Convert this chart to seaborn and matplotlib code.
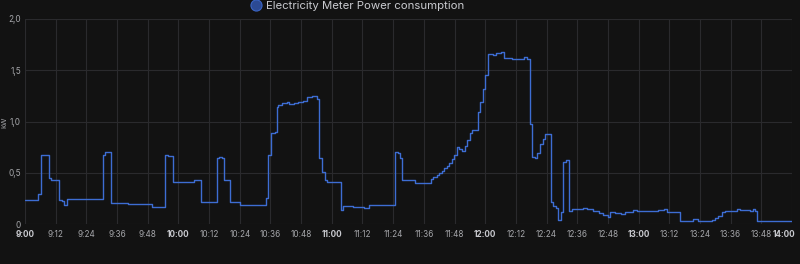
import matplotlib
matplotlib.use("Agg")
import matplotlib.pyplot as plt
import matplotlib.transforms as mtransforms
from matplotlib.lines import Line2D
import seaborn as sns
import pandas as pd

# minutes after 9:00 and power (kW), step-after series
minutes = [0, 5.2, 6.26, 7.8, 9.39, 10.17, 13.41, 14.35, 15.37, 16.43, 23.5,
           30.6, 31.4, 32.46, 33.5, 40.3, 46.5, 49.5, 54.75, 56.0, 57.76,
           66.1, 68.8, 75.0, 75.9, 76.9, 77.9, 80.2, 84.1, 94.1, 95.2, 96.2,
           97.8, 98.4, 99.1, 100.4, 102.3, 103.4, 105.3, 106.9, 108.8, 110.2,
           112.4, 114.2, 115.1, 116.3, 117.3, 118.2, 123.5, 124.5, 128.4,
           131.7, 132.7, 134.5, 144.7, 145.8, 146.7, 147.6, 152.5, 158.8,
           159.7, 161.0, 162.0, 163.0, 164.0, 164.9, 165.9, 166.9, 167.9,
           168.8, 169.7, 171.0, 172.1, 173.0, 174.0, 174.9, 177.0, 177.9,
           179.0, 179.9, 181.2, 183.1, 184.3, 186.2, 187.2, 190.3, 195.2,
           196.2, 197.5, 198.4, 199.5, 200.4, 201.4, 202.5, 203.4, 205.6,
           206.6, 207.7, 208.6, 209.6, 210.5, 211.6, 212.6, 213.8, 218.3,
           219.7, 222.0, 224.6, 226.2, 227.9, 228.8, 230.7, 233.1, 234.6,
           237.9, 239.2, 243.1, 247.7, 249.9, 251.2, 256.2, 261.1, 263.3,
           268.6, 269.8, 271.1, 272.7, 273.8, 278.3, 279.6, 283.5, 284.6,
           285.5, 286.4, 300]
power_kw = [0.23, 0.29, 0.676, 0.67, 0.45, 0.43, 0.237, 0.224, 0.19, 0.24, 0.245,
            0.67, 0.705, 0.70, 0.205, 0.2, 0.195, 0.17, 0.673, 0.668, 0.41,
            0.43, 0.21, 0.647, 0.657, 0.647, 0.43, 0.215, 0.19, 0.25, 0.67, 0.885,
            0.895, 1.14, 1.16, 1.177, 1.193, 1.168, 1.18, 1.186, 1.2, 1.235,
            1.25, 1.22, 0.64, 0.51, 0.43, 0.41, 0.137, 0.175, 0.166,
            0.17, 0.16, 0.187, 0.705, 0.69, 0.64, 0.426, 0.397, 0.436,
            0.46, 0.48, 0.5, 0.52, 0.543, 0.563, 0.598, 0.63, 0.673,
            0.754, 0.73, 0.715, 0.76, 0.82, 0.885, 0.917, 1.096, 1.187,
            1.314, 1.454, 1.655, 1.649, 1.665, 1.675, 1.617, 1.61, 1.632,
            1.613, 0.976, 0.657, 0.644, 0.69, 0.78, 0.826, 0.88, 0.218,
            0.176, 0.153, 0.04, 0.114, 0.608, 0.62, 0.13, 0.146, 0.153,
            0.143, 0.13, 0.104, 0.088, 0.065, 0.12, 0.11, 0.098, 0.114,
            0.137, 0.127, 0.124, 0.137, 0.15, 0.117, 0.03, 0.049, 0.032,
            0.039, 0.062, 0.078, 0.12, 0.13, 0.143, 0.137, 0.127, 0.15,
            0.13, 0.032, 0.032]

x_tick_minutes = list(range(0, 301, 12))
x_tick_labels = ["9:00", "9:12", "9:24", "9:36", "9:48", "10:00", "10:12", "10:24",
                 "10:36", "10:48", "11:00", "11:12", "11:24", "11:36", "11:48",
                 "12:00", "12:12", "12:24", "12:36", "12:48", "13:00", "13:12",
                 "13:24", "13:36", "13:48", "14:00"]
y_ticks = [0, 0.5, 1.0, 1.5, 2.0]
y_tick_labels = ["0", "0,5", "1,0", "1,5", "2,0"]
series_name = "Electricity Meter Power consumption"

bg = "#121212"
grid_c = "#2a2a2d"
text_c = "#a5a6aa"
bold_c = "#c9cacf"
line_c = "#3d6dd3"

sns.set_theme(style="dark")
plt.rcParams["font.family"] = ["Inter", "DejaVu Sans"]

df = pd.DataFrame({"minute": minutes, "kW": power_kw})

fig = plt.figure(figsize=(8, 2.64), dpi=100, facecolor=bg)
ax = fig.add_axes([25/800, 1 - 224/264, (792 - 25)/800, (224 - 19)/264])
ax.set_facecolor(bg)

sns.lineplot(data=df, x="minute", y="kW", ax=ax, estimator=None, sort=False,
             drawstyle="steps-post", color=line_c, linewidth=1.0)

ax.set_xlim(0, 300)
ax.set_ylim(0, 2.0)
ax.set_xticks(x_tick_minutes)
ax.set_xticklabels(x_tick_labels)
ax.set_yticks(y_ticks)
ax.set_yticklabels(y_tick_labels)
ax.tick_params(axis="both", length=0, labelsize=5.9, colors=text_c)
ax.tick_params(axis="x", pad=4)
ax.tick_params(axis="y", pad=3)
for lab, m in zip(ax.get_xticklabels(), x_tick_minutes):
    if m % 60 == 0:
        lab.set_fontweight("bold")
        lab.set_color(bold_c)

ax.grid(True, color=grid_c, linewidth=0.8)
for s in ax.spines.values():
    s.set_visible(False)
ax.set_xlabel("")
ax.set_ylabel("")
fig.text(4/800, 1 - 122/264, "kW", rotation=90, fontsize=5.3, color=text_c,
         ha="center", va="center")

handle = Line2D([], [], linestyle="none", marker="o", markersize=8,
                markerfacecolor="#2c4a94", markeredgecolor="#3a64c4", markeredgewidth=0.8)
leg = fig.legend([handle], [series_name], loc="center", bbox_to_anchor=(0.447, 0.977),
                 frameon=False, fontsize=8.2, handletextpad=0.35, handlelength=1.0,
                 borderaxespad=0, borderpad=0)
for t in leg.get_texts():
    t.set_color(bold_c)

# nudge the last x label left so it stays inside the image
last = ax.get_xticklabels()[-1]
last.set_transform(last.get_transform() +
                   mtransforms.ScaledTranslation(-8/100, 0, fig.dpi_scale_trans))

fig.savefig("out.png", dpi=100, facecolor=bg)
